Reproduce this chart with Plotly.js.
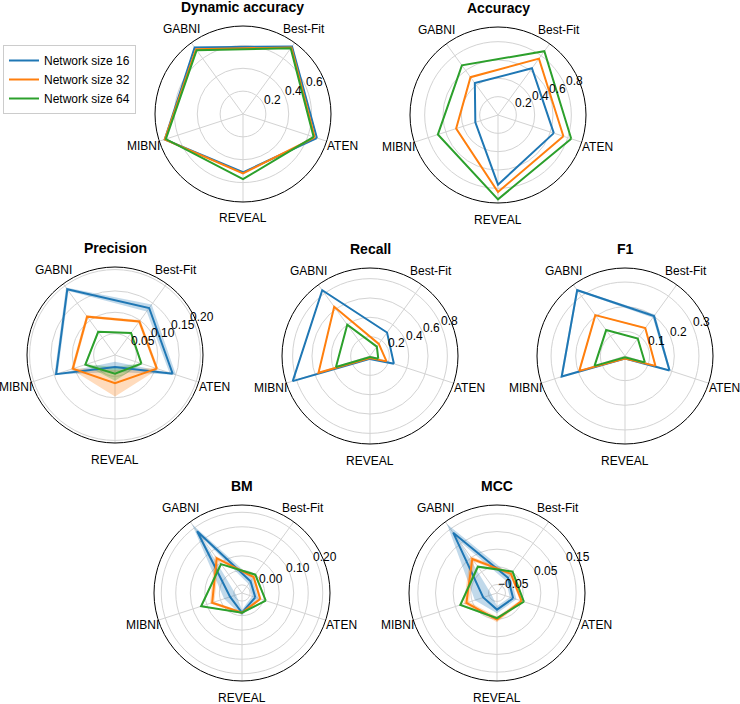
<!DOCTYPE html>
<html>
<head>
<meta charset="utf-8">
<script src="https://cdn.plot.ly/plotly-3.0.1.min.js"></script>
<style>
  html, body { margin: 0; padding: 0; background: #fff; }
  #chart { width: 740px; height: 704px; }
</style>
</head>
<body>
<div id="chart"></div>
<script>
// ---------------- data ----------------
const categories = ['ATEN', 'Best-Fit', 'GABNI', 'MIBNI', 'REVEAL'];
const seriesNames = ['Network size 16', 'Network size 32', 'Network size 64'];
const metricTitles = ['Dynamic accuracy', 'Accuracy', 'Precision', 'Recall', 'F1', 'BM', 'MCC'];

// mean values (order follows categories)
const dynAcc16 = [0.68, 0.73, 0.72, 0.72, 0.51];
const dynAcc32 = [0.66, 0.72, 0.70, 0.72, 0.52];
const dynAcc64 = [0.65, 0.71, 0.69, 0.71, 0.57];

const acc16 = [0.64, 0.63, 0.43, 0.26, 0.76];
const acc32 = [0.75, 0.76, 0.51, 0.48, 0.84];
const acc64 = [0.84, 0.86, 0.67, 0.69, 0.92];

const prec16 = [0.142, 0.136, 0.190, 0.145, 0.028];
const prec32 = [0.103, 0.097, 0.111, 0.104, 0.066];
const prec64 = [0.065, 0.064, 0.067, 0.073, 0.044];

const rec16 = [0.26, 0.30, 0.84, 0.84, 0.03];
const rec32 = [0.18, 0.155, 0.63, 0.56, 0.02];
const rec64 = [0.09, 0.12, 0.40, 0.37, 0.01];

const f1_16 = [0.19, 0.20, 0.33, 0.27, 0.01];
const f1_32 = [0.13, 0.14, 0.205, 0.195, 0.01];
const f1_64 = [0.085, 0.088, 0.13, 0.13, 0.005];

const bm16 = [-0.03, -0.028, 0.185, -0.035, -0.01];
const bm32 = [-0.012, -0.01, 0.07, 0.03, -0.01];
const bm64 = [0.008, 0.0, 0.045, 0.07, -0.01];

const mcc16 = [-0.026, -0.021, 0.137, -0.033, -0.027];
const mcc32 = [-0.001, -0.007, 0.045, 0.017, 0.001];
const mcc64 = [0.006, 0.001, 0.018, 0.035, -0.003];

// standard deviations (shaded bands)
const dynAccSd16 = [0.006, 0.006, 0.006, 0.005, 0.004];
const dynAccSd32 = [0.004, 0.004, 0.004, 0.004, 0.004];
const dynAccSd64 = [0.003, 0.003, 0.003, 0.003, 0.003];

const accSd16 = [0.004, 0.004, 0.004, 0.004, 0.004];
const accSd32 = [0.003, 0.003, 0.003, 0.003, 0.003];
const accSd64 = [0.003, 0.003, 0.003, 0.003, 0.003];

const precSd16 = [0.008, 0.010, 0.005, 0.004, 0.012];
const precSd32 = [0.004, 0.004, 0.004, 0.004, 0.031];
const precSd64 = [0.002, 0.002, 0.002, 0.002, 0.016];

const recSd16 = [0.005, 0.005, 0.005, 0.005, 0.003];
const recSd32 = [0.004, 0.004, 0.004, 0.004, 0.002];
const recSd64 = [0.003, 0.003, 0.003, 0.003, 0.002];

const f1Sd16 = [0.005, 0.008, 0.005, 0.005, 0.003];
const f1Sd32 = [0.003, 0.003, 0.003, 0.003, 0.002];
const f1Sd64 = [0.002, 0.002, 0.002, 0.002, 0.002];

const bmSd16 = [0.012, 0.012, 0.03, 0.022, 0.01];
const bmSd32 = [0.005, 0.005, 0.012, 0.008, 0.005];
const bmSd64 = [0.003, 0.003, 0.004, 0.004, 0.003];

const mccSd16 = [0.01, 0.01, 0.03, 0.025, 0.01];
const mccSd32 = [0.005, 0.005, 0.01, 0.008, 0.008];
const mccSd64 = [0.003, 0.003, 0.004, 0.004, 0.004];

// radial ticks (grid circles) and their labels per metric
const dynAccTicks = [0.2, 0.4, 0.6];
const dynAccTickText = ['0.2', '0.4', '0.6'];
const accTicks = [0.2, 0.4, 0.6, 0.8];
const accTickText = ['0.2', '0.4', '0.6', '0.8'];
const precTicks = [0.05, 0.10, 0.15, 0.20];
const precTickText = ['0.05', '0.10', '0.15', '0.20'];
const recTicks = [0.2, 0.4, 0.6, 0.8];
const recTickText = ['0.2', '0.4', '0.6', '0.8'];
const f1Ticks = [0.1, 0.2, 0.3];
const f1TickText = ['0.1', '0.2', '0.3'];
const bmTicks = [-0.05, 0.00, 0.05, 0.10, 0.15, 0.20];
const bmTickText = ['', '0.00', '', '0.10', '', '0.20'];
const mccTicks = [-0.05, 0.00, 0.05, 0.10, 0.15];
const mccTickText = ['\u22120.05', '', '0.05', '', '0.15'];

// ---------------- layout config ----------------
const W = 740, H = 704, R = 88, LABEL_R = 104.5;
const ROTATION = -18;          // ATEN sits at -18 deg, counter-clockwise order
const RLABEL_ANGLE = 22.5;     // matplotlib default radial-label position
const RLABEL_PAD = 9;          // label centre sits this far beyond its grid circle
const colors = ['#1f77b4', '#ff7f0e', '#2ca02c'];
const bandColors = ['rgba(31,119,180,0.28)', 'rgba(255,127,14,0.28)', 'rgba(44,160,44,0.28)'];
const FONT = '"Liberation Sans", Arial, Helvetica, sans-serif';

const panels = [
  {means: [dynAcc16, dynAcc32, dynAcc64], sds: [dynAccSd16, dynAccSd32, dynAccSd64], ticks: dynAccTicks, tickText: dynAccTickText, range: [0, 0.77], cx: 243, cy: 114},
  {means: [acc16, acc32, acc64], sds: [accSd16, accSd32, accSd64], ticks: accTicks, tickText: accTickText, range: [0, 0.96], cx: 498, cy: 115},
  {means: [prec16, prec32, prec64], sds: [precSd16, precSd32, precSd64], ticks: precTicks, tickText: precTickText, range: [0, 0.206], cx: 115, cy: 355},
  {means: [rec16, rec32, rec64], sds: [recSd16, recSd32, recSd64], ticks: recTicks, tickText: recTickText, range: [0, 0.91], cx: 370, cy: 356},
  {means: [f1_16, f1_32, f1_64], sds: [f1Sd16, f1Sd32, f1Sd64], ticks: f1Ticks, tickText: f1TickText, range: [0, 0.357], cx: 625, cy: 356},
  {means: [bm16, bm32, bm64], sds: [bmSd16, bmSd32, bmSd64], ticks: bmTicks, tickText: bmTickText, range: [-0.078, 0.225], cx: 242, cy: 593},
  {means: [mcc16, mcc32, mcc64], sds: [mccSd16, mccSd32, mccSd64], ticks: mccTicks, tickText: mccTickText, range: [-0.074, 0.175], cx: 497, cy: 593}
];

const closeLoop = arr => arr.concat([arr[0]]);
const thetaClosed = closeLoop(categories);

const traces = [];
const layout = {
  width: W, height: H,
  margin: {l: 0, r: 0, t: 0, b: 0},
  paper_bgcolor: '#fff',
  font: {family: FONT, size: 12, color: '#000'},
  showlegend: true,
  legend: {
    x: 3 / W, y: 1 - 45 / H, xanchor: 'left', yanchor: 'top',
    bgcolor: '#fff', bordercolor: '#cccccc', borderwidth: 1,
    font: {family: FONT, size: 12, color: '#000'},
    itemwidth: 30, tracegroupgap: 0
  },
  annotations: []
};

panels.forEach((p, k) => {
  const key = k === 0 ? 'polar' : 'polar' + (k + 1);
  layout[key] = {
    domain: {x: [(p.cx - R) / W, (p.cx + R) / W], y: [1 - (p.cy + R) / H, 1 - (p.cy - R) / H]},
    bgcolor: 'rgba(0,0,0,0)',
    radialaxis: {
      range: p.range, tickvals: p.ticks, ticktext: p.tickText,
      angle: RLABEL_ANGLE, showline: false, ticks: '', showticklabels: false,
      gridcolor: '#d3d3d3', gridwidth: 1,
      layer: 'below traces'
    },
    angularaxis: {
      type: 'category', categoryarray: categories, rotation: ROTATION, direction: 'counterclockwise',
      showline: true, linecolor: '#000', linewidth: 1,
      gridcolor: '#d3d3d3', gridwidth: 1, ticks: '', showticklabels: false,
      layer: 'below traces'
    }
  };
  // bands (mean +/- sd)
  p.means.forEach((m, s) => {
    const up = m.map((v, i) => v + p.sds[s][i]);
    const lo = m.map((v, i) => Math.max(v - p.sds[s][i], p.range[0]));
    const upC = closeLoop(up), loC = closeLoop(lo);
    traces.push({
      type: 'scatterpolar', subplot: key, mode: 'lines',
      r: upC.concat(loC.slice().reverse()),
      theta: thetaClosed.concat(thetaClosed.slice().reverse()),
      fill: 'toself', fillcolor: bandColors[s], line: {width: 0, color: bandColors[s]},
      hoverinfo: 'skip', showlegend: false
    });
  });
  // mean lines
  p.means.forEach((m, s) => {
    traces.push({
      type: 'scatterpolar', subplot: key, mode: 'lines',
      r: closeLoop(m), theta: thetaClosed,
      name: seriesNames[s], legendgroup: seriesNames[s],
      line: {color: colors[s], width: 2},
      showlegend: k === 0
    });
  });
  // subplot title
  layout.annotations.push({
    text: '<b>' + metricTitles[k] + '</b>',
    xref: 'paper', yref: 'paper', x: p.cx / W, y: 1 - (p.cy - 97) / H,
    xanchor: 'center', yanchor: 'bottom', showarrow: false,
    font: {family: FONT, size: 14, color: '#000'}
  });
  // category labels, centred just outside the circle (matplotlib style)
  categories.forEach((c, i) => {
    const a = (ROTATION + 360 / categories.length * i) * Math.PI / 180;
    layout.annotations.push({
      text: c, showarrow: false, xref: 'paper', yref: 'paper',
      x: (p.cx + LABEL_R * Math.cos(a)) / W, y: 1 - (p.cy - LABEL_R * Math.sin(a)) / H,
      xanchor: 'center', yanchor: 'middle',
      font: {family: FONT, size: 12, color: '#000'}
    });
  });
  // radial tick labels along the 22.5 deg ray, placed from the axis range
  const ra = RLABEL_ANGLE * Math.PI / 180;
  p.ticks.forEach((v, i) => {
    if (!p.tickText[i]) return;
    const rp = R * (v - p.range[0]) / (p.range[1] - p.range[0]) + RLABEL_PAD;
    layout.annotations.push({
      text: p.tickText[i], showarrow: false, xref: 'paper', yref: 'paper',
      x: (p.cx + rp * Math.cos(ra)) / W, y: 1 - (p.cy - rp * Math.sin(ra) - 2) / H,
      xanchor: 'center', yanchor: 'middle',
      font: {family: FONT, size: 12, color: '#000'}
    });
  });
});

Plotly.newPlot('chart', traces, layout, {staticPlot: true});
</script>
</body>
</html>
